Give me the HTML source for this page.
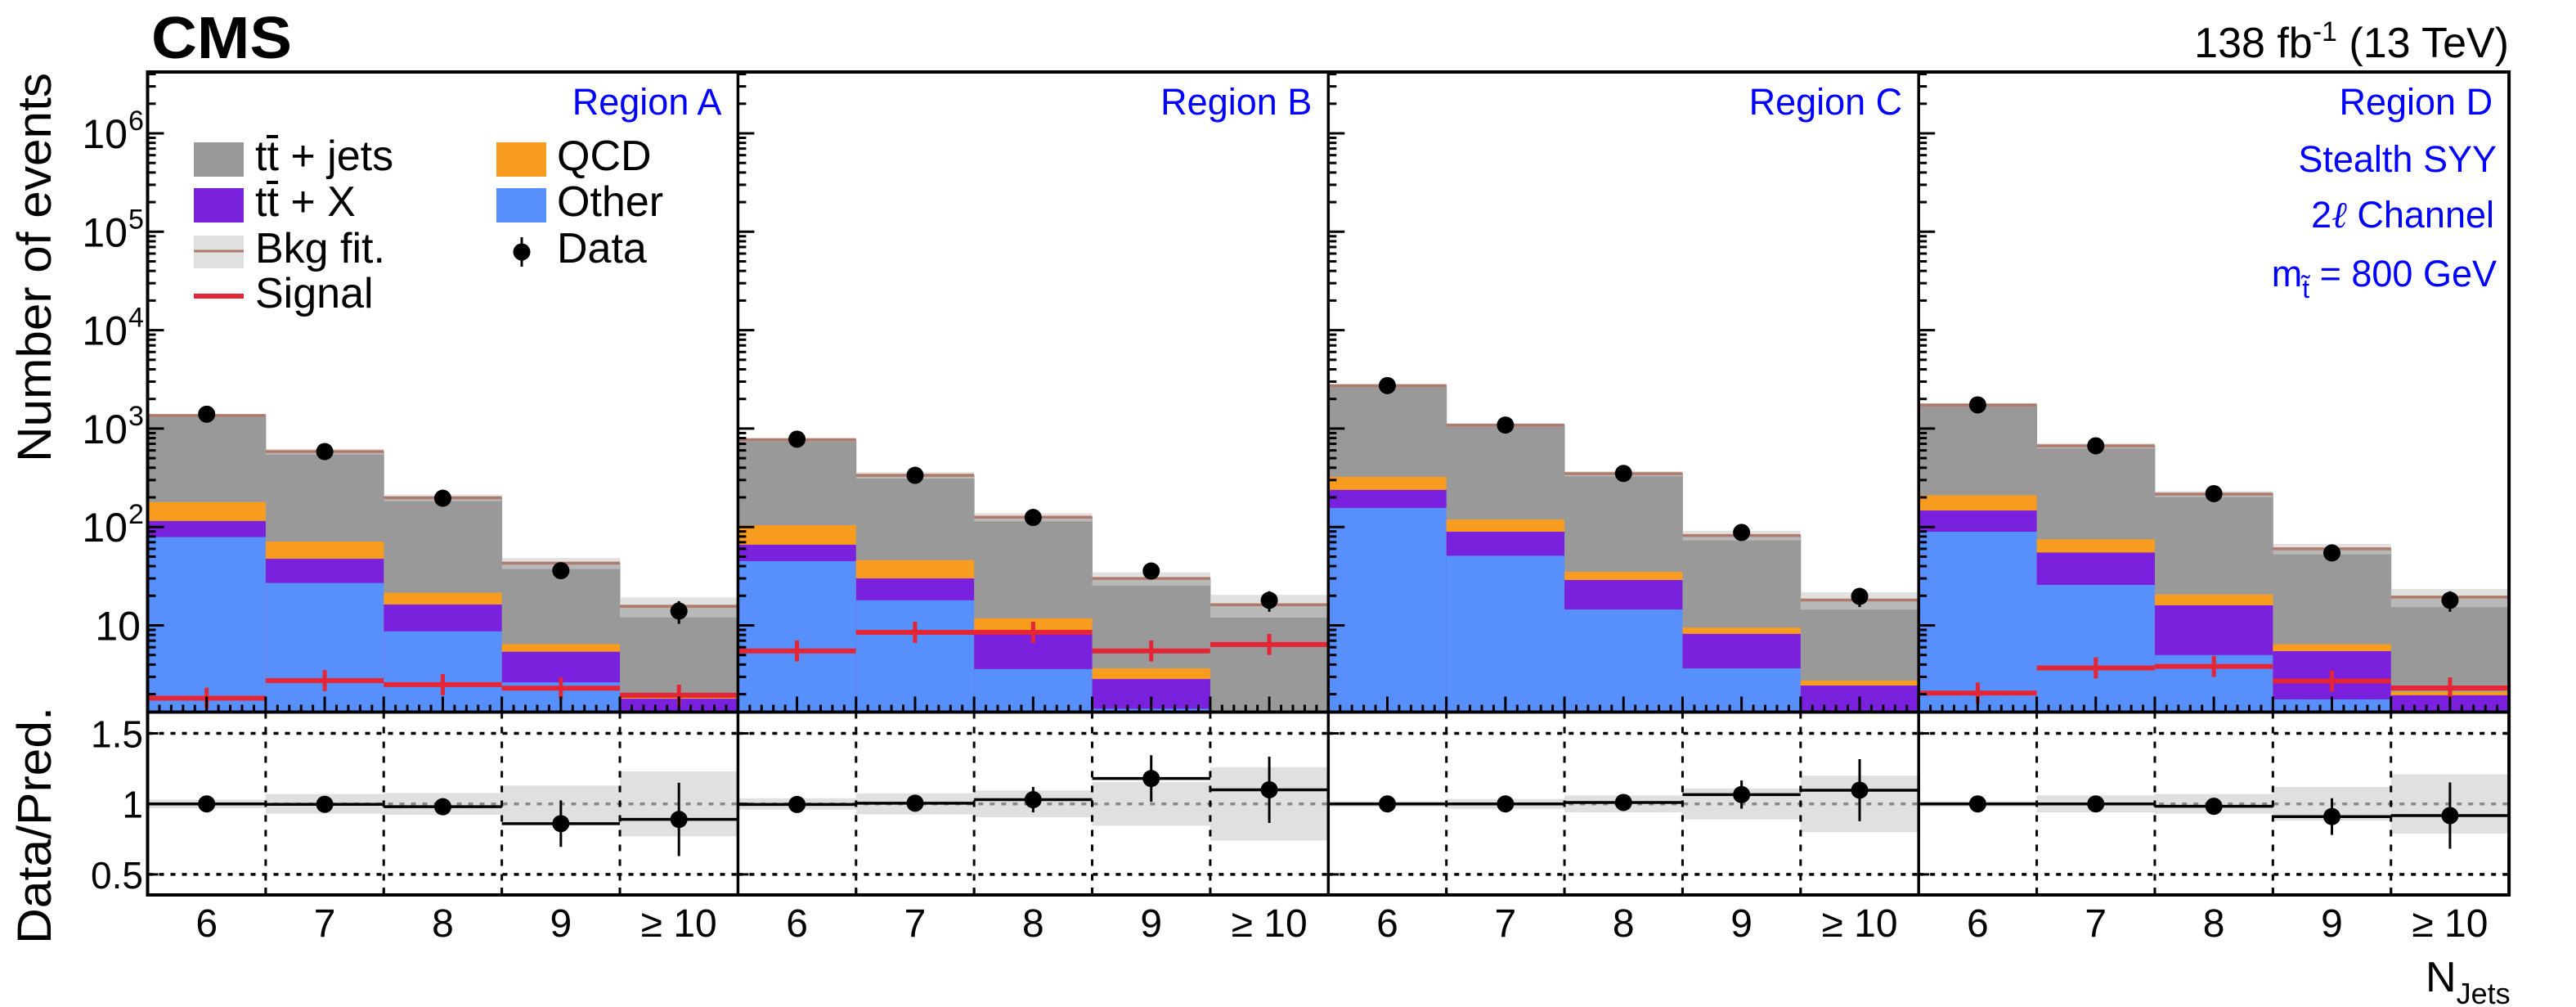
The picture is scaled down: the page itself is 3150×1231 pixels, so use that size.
<!DOCTYPE html>
<html><head><meta charset="utf-8"><title>CMS Stealth SYY NJets</title>
<style>html,body{margin:0;padding:0;background:#fff}svg{display:block}text{font-family:"Liberation Sans",Arial,sans-serif}</style>
</head><body>
<svg id="chart" xmlns="http://www.w3.org/2000/svg" width="3150" height="1231" viewBox="0 0 3150 1231">
<rect width="3150" height="1231" fill="#fff"/>
<g id="marks"></g>
<g id="axes"></g>
<g id="labels">
<text x="185" y="71" font-size="72" font-weight="bold" textLength="172" lengthAdjust="spacingAndGlyphs">CMS</text>
<text x="3068" y="70" font-size="52" text-anchor="end">138 fb<tspan dy="-20" font-size="34">-1</tspan><tspan dy="20"> (13 TeV)</tspan></text>
<text transform="translate(62,565) rotate(-90)" font-size="58" textLength="476" lengthAdjust="spacingAndGlyphs">Number of events</text>
<text transform="translate(62,1154) rotate(-90)" font-size="58" textLength="290" lengthAdjust="spacingAndGlyphs">Data/Pred.</text>
<text x="2966" y="1212" font-size="52">N<tspan dy="15" font-size="36">Jets</tspan></text>
<text x="3053" y="210" font-size="45" fill="#0000ff" text-anchor="end">Stealth SYY</text>
<text x="3050" y="278" font-size="45" fill="#0000ff" text-anchor="end">2<tspan font-family="DejaVu Serif" font-style="italic">ℓ</tspan> Channel</text>
<text x="3053" y="350" font-size="45" fill="#0000ff" text-anchor="end">m<tspan dy="14" font-size="32">t̃</tspan><tspan dy="-14"> = 800 GeV</tspan></text>
</g>
<g id="legend">
<rect x="237" y="174" width="61" height="42" fill="#999999"/>
<text x="312" y="208" font-size="52">tt + jets</text>
<line x1="326" y1="167" x2="340" y2="167" stroke="#000" stroke-width="4"/>
<rect x="607" y="174" width="61" height="42" fill="#f89c20"/>
<text x="681" y="208" font-size="52">QCD</text>
<rect x="237" y="230" width="61" height="42" fill="#7a21dd"/>
<text x="312" y="264" font-size="52">tt + X</text>
<line x1="326" y1="223" x2="340" y2="223" stroke="#000" stroke-width="4"/>
<rect x="607" y="230" width="61" height="42" fill="#5790fc"/>
<text x="681" y="264" font-size="52">Other</text>
<rect x="237" y="288" width="61" height="40" fill="#e0e0e0"/>
<line x1="237" y1="307" x2="298" y2="307" stroke="#b07a6a" stroke-width="3"/>
<text x="312" y="321" font-size="52">Bkg fit.</text>
<circle cx="638" cy="308" r="10.5" fill="#000"/>
<line x1="638" y1="290" x2="638" y2="326" stroke="#000" stroke-width="3"/>
<text x="681" y="321" font-size="52">Data</text>
<line x1="237" y1="362" x2="298" y2="362" stroke="#e42536" stroke-width="6"/>
<text x="312" y="376" font-size="52">Signal</text>
</g>
</svg>
<script>
// ---- data ----
const binLabels = ["6","7","8","9","\u2265 10"];
const regionNames = ["Region A","Region B","Region C","Region D"];
const otherVals = [[79,27,8.7,2.64,1.0],[45,18,3.6,1.42,0.5],[156,51,14.5,3.66,0.8],[89.5,25.8,5.0,1.77,0.8]];
const ttxVals   = [[36,20.5,7.6,2.76,0.8],[21,12,4.7,1.43,0.2],[82,38.5,14.4,4.54,1.65],[57.5,29.2,11,3.7,1.15]];
const qcdVals   = [[64,23.5,5.2,1.05,0.05],[38,16,3.5,0.81,0.1],[85,29.5,6.1,1.3,0.3],[63,20,4.6,0.98,0.17]];
const ttjetsVals= [[1181,513,176.5,36.5,13.8],[667,289,114,26.3,15.4],[2412,967,313,72.5,15.35],[1530,593,195.4,53.5,17.3]];
const dataVals  = [[1400,584,196,36,14],[780,335,125,35.7,18],[2735,1086,350,88,19.7],[1740,668,218,54.5,18]];
const signalVals= [[1.82,2.75,2.5,2.3,1.95],[5.5,8.5,8.5,5.5,6.4],[0.5,0.5,0.5,0.5,0.5],[2.05,3.7,3.83,2.72,2.31]];
const ratioVals = [[1.0,0.997,0.98,0.86,0.89],[0.996,1.005,1.03,1.18,1.10],[1.0,1.0,1.01,1.066,1.097],[1.0,1.0,0.983,0.91,0.917]];
const ratioErr  = [[0.01,0.015,0.025,0.165,0.26],[0.015,0.02,0.09,0.165,0.235],[0.01,0.015,0.02,0.1,0.22],[0.01,0.015,0.02,0.13,0.235]];
const bandErr   = [[0.03,0.07,0.077,0.13,0.23],[0.04,0.075,0.095,0.155,0.26],[0.02,0.035,0.06,0.11,0.2],[0.02,0.06,0.07,0.12,0.21]];
const mainTicks = [10,100,1000,10000,100000,1000000];
const ratioTicks = [0.5,1,1.5];

// ---- axes ----
const TOP=88, MB=870.5, RB=1094, X0=180.5, PW=721.9, BW=PW/5;
const yLogMin=0.115, yLogMax=6.62;
function yMain(v){const l=Math.log10(Math.max(v,1e-3));const y=764.5-120.3*(l-1);return Math.min(MB,Math.max(TOP,y));}
function yR(r){return Math.min(RB,Math.max(MB,982.7-172.4*(r-1)));}
function xEdge(p,i){return X0+p*PW+i*BW;}
const NS="http://www.w3.org/2000/svg";
const marks=document.getElementById('marks'), axes=document.getElementById('axes');
function mk(tag,attrs,parent){const e=document.createElementNS(NS,tag);for(const k in attrs)e.setAttribute(k,attrs[k]);(parent||marks).appendChild(e);return e;}
const colors={other:"#5790fc",ttx:"#7a21dd",qcd:"#f89c20",tt:"#999999"};

for(let p=0;p<4;p++){
  for(let i=0;i<5;i++){
    const xa=xEdge(p,i), xb=xEdge(p,i+1), xc=(xa+xb)/2;
    const c1=otherVals[p][i], c2=c1+ttxVals[p][i], c3=c2+qcdVals[p][i], tot=c3+ttjetsVals[p][i];
    const layers=[[tot,colors.tt,'bar-ttjets'],[c3,colors.qcd,'bar-qcd'],[c2,colors.ttx,'bar-ttx'],[c1,colors.other,'bar-other']];
    for(const L of layers){
      const y=yMain(L[0]);
      if(y<MB){const r=mk('rect',{x:xa,y:y,width:BW+0.5,height:MB-y,fill:L[1]});
        
        }
    }
    const e=bandErr[p][i];
    const yb1=yMain(tot*(1+e)), yb2=yMain(tot*(1-e));
    const band=mk('rect',{x:xa,y:yb1,width:BW,height:yb2-yb1,fill:"rgba(205,205,205,0.6)"});
    
    
    const tl=mk('line',{x1:xa,x2:xb,y1:yMain(tot),y2:yMain(tot),stroke:"#b07a6a","stroke-width":3.5});
    
    
    const sv=signalVals[p][i], ys=yMain(sv);
    if(ys<MB-2){
      const sg=mk('line',{x1:xa,x2:xb,y1:ys,y2:ys,stroke:"#e42536","stroke-width":6});
      
      
      mk('line',{x1:xc,x2:xc,y1:yMain(sv*1.28),y2:yMain(sv/1.28),stroke:"#e42536","stroke-width":5});
    }
    const dv=dataVals[p][i], yd=yMain(dv), de=ratioErr[p][i];
    mk('line',{x1:xc,x2:xc,y1:yMain(dv*(1+de)),y2:yMain(dv*(1-de)),stroke:"#000","stroke-width":3});
    const dp=mk('circle',{cx:xc,cy:yd,r:10.5,fill:"#000"});
    
    
    const rb=mk('rect',{x:xa,y:yR(1+e),width:BW,height:yR(1-e)-yR(1+e),fill:"#e0e0e0"});
    
    
  }
  const pl=xEdge(p,0), pr=xEdge(p,5);
  for(const t of ratioTicks){
    mk('line',{x1:pl,x2:pr,y1:yR(t),y2:yR(t),stroke:t===1?"#888":"#000","stroke-width":3.5,"stroke-dasharray":"6,8"});
  }
  for(let i=1;i<5;i++){const x=xEdge(p,i);mk('line',{x1:x,x2:x,y1:MB,y2:RB,stroke:"#000","stroke-width":3,"stroke-dasharray":"8,10"});}
  for(let i=0;i<5;i++){
    const xa=xEdge(p,i), xb=xEdge(p,i+1), xc=(xa+xb)/2, r=ratioVals[p][i], re=ratioErr[p][i];
    mk('line',{x1:xa,x2:xb,y1:yR(r),y2:yR(r),stroke:"#000","stroke-width":3.5});
    mk('line',{x1:xc,x2:xc,y1:yR(r+re),y2:yR(r-re),stroke:"#000","stroke-width":3});
    const rp=mk('circle',{cx:xc,cy:yR(r),r:10.5,fill:"#000"});
    
    
    const lab=mk('text',{x:xc,y:1145,"font-size":48,"text-anchor":"middle"},axes);
    lab.textContent=binLabels[i];
    
    
  }
  for(let k=0;k<=50;k++){
    const x=pl+k*BW/10, major=(k%5===0);
    mk('line',{x1:x,x2:x,y1:MB,y2:MB-(major?19:9),stroke:"#000","stroke-width":3},axes);
  }
  for(let i=1;i<5;i++){const x=xEdge(p,i);mk('line',{x1:x,x2:x,y1:RB,y2:RB-9,stroke:"#000","stroke-width":3},axes);}
  for(let d=0;d<=6;d++){
    for(let m=1;m<=9;m++){
      const v=m*Math.pow(10,d), l=Math.log10(v);
      if(l<yLogMin||l>yLogMax)continue;
      const y=yMain(v);
      mk('line',{x1:pl,x2:pl+(m===1?20:10),y1:y,y2:y,stroke:"#000","stroke-width":3},axes);
    }
  }
  for(const t of ratioTicks){mk('line',{x1:pl,x2:pl+13,y1:yR(t),y2:yR(t),stroke:"#000","stroke-width":3},axes);}
  const rl=mk('text',{x:pr-20,y:140,"font-size":45,fill:"#0000ff","text-anchor":"end"},axes);
  rl.textContent=regionNames[p];
  
  
  mk('line',{x1:pl,x2:pl,y1:TOP,y2:RB,stroke:"#000","stroke-width":3.5},axes);
}
mk('rect',{x:X0,y:TOP,width:4*PW,height:RB-TOP,fill:"none",stroke:"#000","stroke-width":4},axes);
mk('line',{x1:X0,x2:X0+4*PW,y1:MB,y2:MB,stroke:"#000","stroke-width":4},axes);
for(const t of mainTicks){
  const l=Math.round(Math.log10(t)), y=yMain(t);
  const tx=mk('text',{x:l===1?172:156,y:y+18,"font-size":50,"text-anchor":"end"},axes);
  tx.textContent="10";
  
  
  if(l>1){const s=mk('text',{x:157,y:y-4,"font-size":34},axes);s.textContent=String(l);}
}
for(const t of ratioTicks){
  const tx=mk('text',{x:175,y:yR(t)+17,"font-size":46,"text-anchor":"end"},axes);
  tx.textContent=String(t);
  
  
}
</script>
</body></html>
